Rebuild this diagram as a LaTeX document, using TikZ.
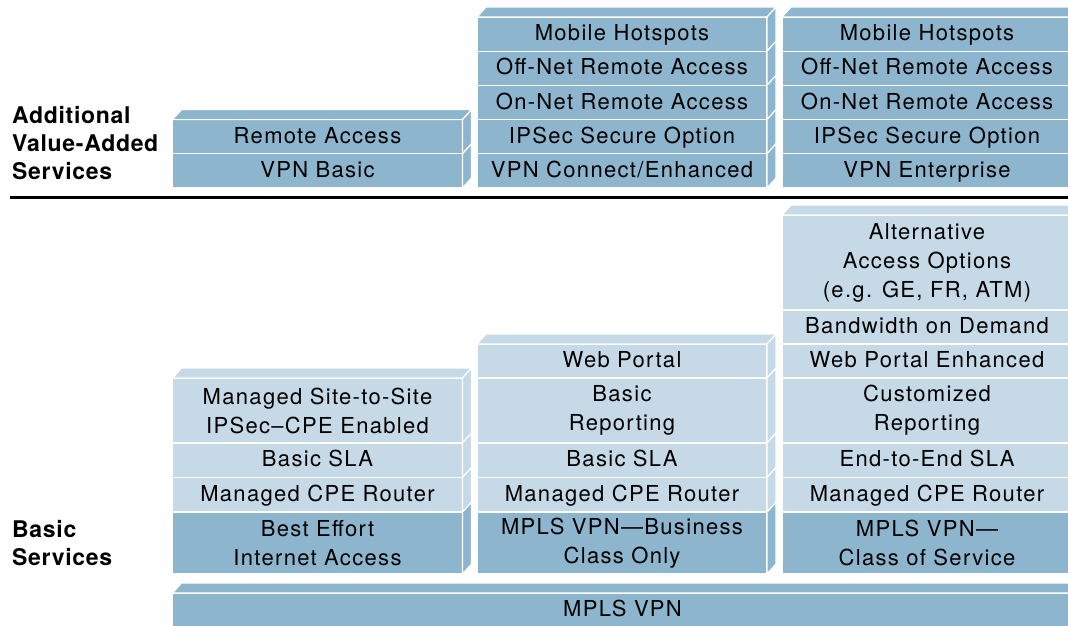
\documentclass[tikz,border=0pt]{standalone}
\usepackage{fontspec}
\setmainfont{TeX Gyre Heros}
\newfontfamily\rowfont[LetterSpace=6]{TeX Gyre Heros}
\newfontfamily\lblfont[LetterSpace=3]{TeX Gyre Heros}
\usetikzlibrary{calc}
\definecolor{dblue}{RGB}{141,182,206}
\definecolor{lblue}{RGB}{197,217,230}
\newcommand{\topface}[2]{\filldraw[face,fill=#2] (#1.north west) -- ++(9,-10) -- ($(#1.north east)+(9,-10)$) -- (#1.north east) -- cycle;}
\newcommand{\sideface}[2]{\filldraw[face,fill=#2] (#1.north east) -- ++(9,-10) -- ($(#1.south east)+(9,-10)$) -- (#1.south east) -- cycle;}
\begin{document}
\begin{tikzpicture}[x=1pt,y=-1pt,
  row/.style={draw=white, line width=1.2pt, minimum width=290pt, inner sep=0pt, outer sep=0pt, anchor=north west, align=center, font=\rowfont\fontsize{22pt}{29pt}\selectfont, text=black},
  one/.style={text height=17pt, text depth=4pt},
  drk/.style={row, fill=dblue},
  lgt/.style={row, fill=lblue},
  lbl/.style={anchor=north west, inner sep=0pt, align=left, font=\lblfont\bfseries\fontsize{23pt}{28pt}\selectfont},
  face/.style={draw=white, line width=1.2pt, line join=round}
]
\clip (0,0) rectangle (1068,626);
\fill[white] (0,0) rectangle (1068,626);

% upper section
\node[drk, one, minimum height=34.2pt] (a1) at (172.5,119.6) {Remote Access};
\node[drk, one, minimum height=34.2pt] (a2) at (172.5,153.8) {VPN Basic};

\node[drk, one, minimum height=34.2pt] (b1) at (477,17) {Mobile Hotspots};
\node[drk, one, minimum height=34.2pt] (b2) at (477,51.2) {Off-Net Remote Access};
\node[drk, one, minimum height=34.2pt] (b3) at (477,85.4) {On-Net Remote Access};
\node[drk, one, minimum height=34.2pt] (b4) at (477,119.6) {IPSec Secure Option};
\node[drk, one, minimum height=34.2pt] (b5) at (477,153.8) {VPN Connect/Enhanced};

\node[drk, one, minimum height=34.2pt] (c1) at (782,17) {Mobile Hotspots};
\node[drk, one, minimum height=34.2pt] (c2) at (782,51.2) {Off-Net Remote Access};
\node[drk, one, minimum height=34.2pt] (c3) at (782,85.4) {On-Net Remote Access};
\node[drk, one, minimum height=34.2pt] (c4) at (782,119.6) {IPSec Secure Option};
\node[drk, one, minimum height=34.2pt] (c5) at (782,153.8) {VPN Enterprise};

% lower section
\node[lgt, minimum height=65pt] (d1) at (172.5,378) {Managed Site-to-Site\\IPSec–CPE Enabled};
\node[lgt, one, minimum height=34.5pt] (d2) at (172.5,443) {Basic SLA};
\node[lgt, one, minimum height=34.5pt] (d3) at (172.5,477.5) {Managed CPE Router};
\node[drk, minimum height=62pt] (d4) at (172.5,512) {Best Effort\\Internet Access};

\node[lgt, one, minimum height=34pt] (e0) at (477,344) {Web Portal};
\node[lgt, minimum height=65pt] (e1) at (477,378) {Basic\\Reporting};
\node[lgt, one, minimum height=34.5pt] (e2) at (477,443) {Basic SLA};
\node[lgt, one, minimum height=34.5pt] (e3) at (477,477.5) {Managed CPE Router};
\node[drk, minimum height=62pt] (e4) at (477,512) {MPLS VPN—Business\\Class Only};

\node[lgt, minimum height=95pt] (f1) at (782,215) {Alternative\\Access Options\\(e.g. GE, FR, ATM)};
\node[lgt, one, minimum height=34pt] (f2) at (782,310) {Bandwidth on Demand};
\node[lgt, one, minimum height=34pt] (f3) at (782,344) {Web Portal Enhanced};
\node[lgt, minimum height=65pt] (f4) at (782,378) {Customized\\Reporting};
\node[lgt, one, minimum height=34.5pt] (f5) at (782,443) {End-to-End SLA};
\node[lgt, one, minimum height=34.5pt] (f6) at (782,477.5) {Managed CPE Router};
\node[drk, minimum height=62pt] (f7) at (782,512) {MPLS VPN—\\Class of Service};

\node[drk, one, minimum width=900pt, minimum height=34pt] (g) at (172.5,593) {MPLS VPN};

% 3D faces
\foreach \n in {a1,b1,c1}{\topface{\n}{dblue}}
\foreach \n in {d1,e0,f1}{\topface{\n}{lblue}}
\topface{g}{dblue}
\foreach \n in {a1,a2,b1,b2,b3,b4,b5,c1,c2,c3,c4,c5,d4,e4,f7,g}{\sideface{\n}{dblue}}
\foreach \n in {d1,d2,d3,e0,e1,e2,e3,f1,f2,f3,f4,f5,f6}{\sideface{\n}{lblue}}

% divider
\coordinate (l0) at (10,197.5);
\coordinate (l1) at (1068,197.5);
\draw[line width=3pt] (l0) -- (l1);

% labels
\node[lbl] (avs) at (12,106) {Additional\\Value-Added\\Services};
\node[lbl] (bs) at (12,520) {Basic\\Services};
\end{tikzpicture}
\end{document}
